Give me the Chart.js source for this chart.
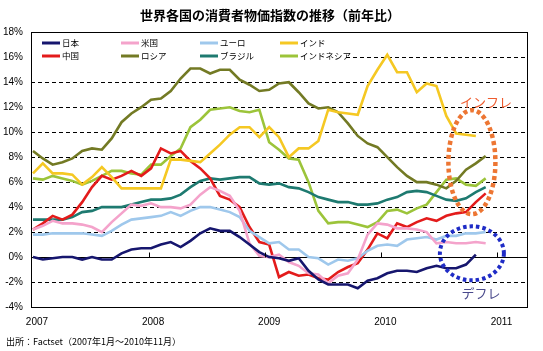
<!DOCTYPE html>
<html>
<head>
<meta charset="utf-8">
<script src="https://cdn.jsdelivr.net/npm/chart.js@4.4.0/dist/chart.umd.min.js"></script>
<style>
html, body { margin: 0; padding: 0; background: #fff; }
</style>
</head>
<body>
<canvas id="cpi" width="543" height="351"></canvas>
<script>
// 2007年1月 = 0 として月数で並べる
var yearLabels = ['2007', '2008', '2009', '2010', '2011'];
var yearTicks = [0, 11.8, 23.6, 35.4, 47.2];
var yTicks = [-4, -2, 0, 2, 4, 6, 8, 10, 12, 14, 16, 18];

var seriesNames = ['日本', '米国', 'ユーロ', 'インド', '中国', 'ロシア', 'ブラジル', 'インドネシア'];

var japan = [0.0, -0.2, -0.1, 0.0, 0.0, -0.2, 0.0, -0.2, -0.2, 0.3, 0.6, 0.7,
             0.7, 1.0, 1.2, 0.8, 1.3, 1.9, 2.3, 2.1, 2.1, 1.6, 1.0, 0.4,
             0.0, -0.1, -0.3, -0.1, -1.1, -1.8, -2.2, -2.2, -2.2, -2.5, -1.9, -1.7,
             -1.3, -1.1, -1.1, -1.2, -0.9, -0.7, -0.9, -0.9, -0.6, 0.2];
var us = [2.2, 2.5, 2.9, 2.7, 2.7, 2.6, 2.4, 2.0, 2.8, 3.5, 4.2, 4.1,
          4.3, 4.0, 4.0, 3.9, 4.2, 5.0, 5.6, 5.3, 4.9, 3.7, 1.1, 0.1,
          0.0, 0.2, -0.4, -0.7, -1.3, -1.4, -2.1, -1.5, -1.3, -0.2, 1.8, 2.7,
          2.6, 2.3, 2.3, 2.2, 2.0, 1.1, 1.2, 1.1, 1.1, 1.2, 1.1];
var euro = [1.8, 1.8, 1.9, 1.9, 1.9, 1.9, 1.8, 1.7, 2.1, 2.6, 3.0, 3.1,
            3.2, 3.3, 3.6, 3.3, 3.7, 4.0, 4.0, 3.8, 3.6, 3.2, 2.1, 1.6,
            1.1, 1.2, 0.6, 0.6, 0.0, -0.1, -0.6, -0.2, -0.3, -0.1, 0.5, 0.9,
            1.0, 0.9, 1.4, 1.5, 1.6, 1.4, 1.7, 1.7, 1.9, 1.9, 2.0];
var india = [6.7, 7.5, 6.7, 6.7, 6.6, 5.8, 6.4, 7.2, 6.4, 5.5, 5.5, 5.5,
             5.5, 5.5, 7.8, 7.8, 7.7, 7.6, 8.3, 9.0, 9.8, 10.4, 10.4, 9.6,
             10.4, 9.6, 8.0, 8.7, 8.7, 9.3, 11.8, 11.6, 11.5, 11.4, 13.7, 15.0,
             16.2, 14.8, 14.8, 13.2, 13.9, 13.7, 11.3, 9.9, 9.8, 9.7];
var china = [2.2, 2.7, 3.3, 3.0, 3.4, 4.4, 5.6, 6.5, 6.2, 6.5, 6.9, 6.5,
             7.1, 8.7, 8.3, 8.5, 7.7, 7.1, 6.3, 4.9, 4.6, 4.0, 2.4, 1.2,
             1.0, -1.6, -1.2, -1.5, -1.4, -1.7, -1.8, -1.2, -0.8, -0.5, 0.6, 1.9,
             1.5, 2.7, 2.4, 2.8, 3.1, 2.9, 3.3, 3.5, 3.6, 4.4, 5.1];
var russia = [8.5, 7.9, 7.4, 7.6, 7.9, 8.5, 8.7, 8.6, 9.5, 10.8, 11.5, 12.0,
              12.6, 12.7, 13.3, 14.3, 15.1, 15.1, 14.7, 15.0, 15.0, 14.2, 13.8, 13.3,
              13.4, 13.9, 14.0, 13.2, 12.3, 11.9, 12.0, 11.6, 10.7, 9.7, 9.1, 8.8,
              8.0, 7.2, 6.5, 6.0, 6.0, 5.8, 5.5, 6.1, 7.0, 7.5, 8.1];
var brazil = [3.0, 3.0, 3.0, 3.0, 3.2, 3.6, 3.7, 4.0, 4.0, 4.0, 4.2, 4.4,
              4.6, 4.6, 4.7, 5.0, 5.6, 6.1, 6.3, 6.2, 6.3, 6.4, 6.4, 5.9,
              5.8, 5.9, 5.6, 5.5, 5.2, 4.8, 4.6, 4.4, 4.4, 4.2, 4.2, 4.3,
              4.6, 4.8, 5.2, 5.3, 5.2, 4.9, 4.6, 4.5, 4.7, 5.2, 5.6];
var indonesia = [6.3, 6.2, 6.5, 6.3, 6.1, 5.8, 6.1, 6.5, 6.9, 6.9, 6.7, 6.6,
                 7.4, 7.4, 8.1, 8.7, 10.4, 11.0, 11.8, 11.9, 12.0, 11.7, 11.6, 11.8,
                 9.2, 8.6, 7.9, 7.8, 6.0, 3.7, 2.7, 2.8, 2.8, 2.6, 2.4, 2.8,
                 3.7, 3.8, 3.5, 3.9, 4.2, 5.2, 6.2, 6.3, 5.8, 5.7, 6.3];

var allSeries = [japan, us, euro, india, china, russia, brazil, indonesia];
var seriesColors = ['#16166e', '#f4a3cb', '#9fc8ec', '#f5c823', '#e31b1b', '#737a24', '#1e7a70', '#9cc43a'];

var datasets = allSeries.map(function(vals, i) {
    return {
        label: seriesNames[i],
        data: vals.map(function(v, m) { return {x: m, y: v}; }),
        borderColor: seriesColors[i],
        backgroundColor: seriesColors[i],
        borderWidth: 2.6,
        pointRadius: 0,
        tension: 0,
        fill: false
    };
});

// タイトル・枠・0%線の目盛・凡例・注記・出所
var extras = {
    id: 'extras',
    afterDatasetsDraw: function(chart) {
        var ctx = chart.ctx;
        var a = chart.chartArea;
        var sx = chart.scales.x, sy = chart.scales.y;
        ctx.save();

        // title
        ctx.font = 'bold 13px "Noto Sans CJK JP"';
        ctx.fillStyle = '#000';
        ctx.textAlign = 'center';
        ctx.textBaseline = 'middle';
        ctx.fillText('世界各国の消費者物価指数の推移（前年比）', 270, 15);

        // legend background hides the grid behind it
        ctx.fillStyle = '#fff';
        ctx.fillRect(a.left + 1, a.top + 1, 313, 31);

        // plot box
        ctx.strokeStyle = '#000';
        ctx.lineWidth = 1;
        ctx.setLineDash([]);
        ctx.strokeRect(Math.round(a.left) + 0.5, Math.round(a.top) + 0.5,
                       Math.round(a.right - a.left) - 1, Math.round(a.bottom - a.top));

        // small ticks on the 0% line
        var y0 = Math.round(sy.getPixelForValue(0)) + 0.5;
        sx.ticks.forEach(function(t, i) {
            if (i === 0) return;
            var px = Math.round(sx.getPixelForValue(t.value)) + 0.5;
            ctx.beginPath();
            ctx.moveTo(px, y0 - 5);
            ctx.lineTo(px, y0);
            ctx.stroke();
        });

        // legend (2 rows x 4)
        var colX = [42, 121, 200, 280];
        var rowY = [43, 56];
        ctx.font = '8.5px "Noto Sans CJK JP"';
        ctx.textAlign = 'left';
        for (var i = 0; i < seriesNames.length; i++) {
            var lx = colX[i % 4], ly = rowY[Math.floor(i / 4)];
            ctx.strokeStyle = seriesColors[i];
            ctx.lineWidth = 3;
            ctx.beginPath();
            ctx.moveTo(lx, ly);
            ctx.lineTo(lx + 18, ly);
            ctx.stroke();
            ctx.fillStyle = '#000';
            ctx.fillText(seriesNames[i], lx + 20, ly);
        }

        // dotted ovals
        var cx = sx.getPixelForValue(44.6);
        ctx.setLineDash([4, 3]);
        ctx.lineWidth = 4.5;
        ctx.strokeStyle = '#ed7633';
        ctx.beginPath();
        ctx.ellipse(cx, sy.getPixelForValue(7.6), 23.5, 52, 0, 0, Math.PI * 2);
        ctx.stroke();

        ctx.setLineDash([3.5, 3]);
        ctx.lineWidth = 4;
        ctx.strokeStyle = '#1f2cc6';
        ctx.beginPath();
        ctx.ellipse(cx, sy.getPixelForValue(0.3), 32, 27, 0, 0, Math.PI * 2);
        ctx.stroke();
        ctx.setLineDash([]);

        ctx.font = '13px "Noto Sans CJK JP"';
        ctx.textAlign = 'center';
        ctx.fillStyle = '#ef5b2e';
        ctx.fillText('インフレ', 486, 102);
        ctx.fillStyle = '#4a4a8c';
        ctx.fillText('デフレ', 481, 293);

        // source
        ctx.font = '9px "Noto Sans CJK JP"';
        ctx.textAlign = 'left';
        ctx.fillStyle = '#000';
        ctx.fillText('出所：Factset（2007年1月～2010年11月）', 6, 342);

        ctx.restore();
    }
};

new Chart(document.getElementById('cpi'), {
    type: 'line',
    data: { datasets: datasets },
    plugins: [extras],
    options: {
        responsive: false,
        animation: false,
        devicePixelRatio: 1,
        layout: { padding: { left: 0, right: 15, top: 32.3, bottom: 22 } },
        plugins: {
            legend: { display: false },
            tooltip: { enabled: false },
            title: { display: false }
        },
        scales: {
            x: {
                type: 'linear',
                min: -0.2,
                max: 50.3,
                afterBuildTicks: function(s) {
                    s.ticks = yearTicks.map(function(v) { return {value: v}; });
                },
                afterFit: function(s) { s.height = 22; },
                ticks: {
                    autoSkip: false,
                    maxRotation: 0,
                    padding: 1,
                    labelOffset: 4,
                    color: '#000',
                    font: { family: '"Liberation Sans"', size: 10 },
                    callback: function(v, i) { return yearLabels[i]; }
                },
                grid: { display: false },
                border: { display: false }
            },
            y: {
                min: -4,
                max: 18,
                afterBuildTicks: function(s) {
                    s.ticks = yTicks.map(function(v) { return {value: v}; });
                },
                afterFit: function(s) { s.width = 31; },
                ticks: {
                    padding: 8,
                    color: '#000',
                    font: { family: '"Liberation Sans"', size: 10 },
                    callback: function(v) { return v + '%'; }
                },
                grid: { color: '#000', lineWidth: 1, drawTicks: false },
                border: {
                    display: false,
                    dash: function(c) {
                        return (c.tick && c.tick.value !== 0) ? [4, 3] : [];
                    }
                }
            }
        }
    }
});
</script>
</body>
</html>
